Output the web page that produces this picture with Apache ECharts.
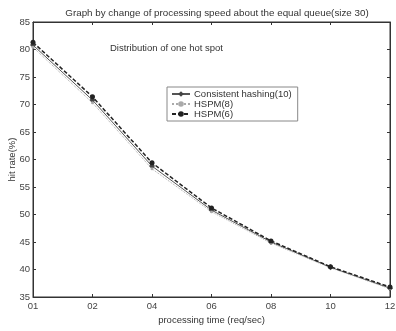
<!DOCTYPE html>
<html><head><meta charset="utf-8">
<script src="https://cdn.jsdelivr.net/npm/echarts@6/dist/echarts.min.js"></script>
<style>html,body{margin:0;padding:0;background:#fff}#c{width:396px;height:331px}</style>
</head><body><div id="c"></div>
<script>
const categories = ['01','02','04','06','08','10','12'];
const consistentHashing = [80.8, 70.8, 58.8, 50.8, 45.0, 40.4, 36.6];
const hspm8 = [80.4, 70.3, 58.3, 50.5, 44.8, 40.3, 36.5];
const hspm6 = [81.3, 71.4, 59.4, 51.2, 45.2, 40.5, 36.8];
const seriesNames = ['Consistent hashing(10)', 'HSPM(8)', 'HSPM(6)'];

const font = 'Liberation Sans, Arial, sans-serif';
const chart = echarts.init(document.getElementById('c'), null, {renderer:'canvas'});
const axisLine = {show:true, lineStyle:{color:'#333', width:1}};
chart.setOption({
  animation:false,
  title:{text:'Graph by change of processing speed about the equal queue(size 30)', left:212, top:3, textAlign:'center',
    textStyle:{fontFamily:font, fontSize:9.8, fontWeight:'normal', color:'#333'}},
  grid:{left:33, right:6, top:22, bottom:34, show:true, borderColor:'#333', borderWidth:1, containLabel:false, outerBoundsMode:'none'},
  legend:{orient:'vertical', left:167, top:87, itemGap:0, itemWidth:18, itemHeight:7,
    padding:[2,6,2,4], borderColor:'#888', borderWidth:1, backgroundColor:'#fff',
    textStyle:{fontFamily:font, fontSize:9.5, color:'#333', padding:[0,0,0,-1]}, data:seriesNames},
  graphic:[{type:'text', left:110, top:43, style:{text:'Distribution of one hot spot', font:'9.5px '+font, fill:'#333'}}],
  xAxis:[{type:'category', data:categories, boundaryGap:false, axisLine,
    axisTick:{show:true, inside:true, length:3, alignWithLabel:true, lineStyle:{color:'#333'}},
    axisLabel:{fontFamily:font, fontSize:9.5, color:'#444', margin:4},
    name:'processing time (req/sec)', nameLocation:'middle', nameGap:18, nameMoveOverlap:false,
    nameTextStyle:{fontFamily:font, fontSize:9.5, color:'#333'}, splitLine:{show:false}},
   {type:'category', data:categories, boundaryGap:false, position:'top', axisLine,
    axisTick:{show:true, inside:true, length:3, lineStyle:{color:'#333'}}, axisLabel:{show:false}}],
  yAxis:[{type:'value', min:35, max:85, interval:5, axisLine,
    axisTick:{show:true, inside:true, length:3, lineStyle:{color:'#333'}},
    axisLabel:{fontFamily:font, fontSize:9.5, color:'#444', margin:3},
    name:'hit rate(%)', nameLocation:'middle', nameGap:16, nameMoveOverlap:false,
    nameTextStyle:{fontFamily:font, fontSize:9.5, color:'#333'}, splitLine:{show:false}},
   {type:'value', min:35, max:85, interval:5, position:'right', axisLine,
    axisTick:{show:true, inside:true, length:3, lineStyle:{color:'#333'}}, axisLabel:{show:false}, splitLine:{show:false}}],
  series:[
    {name:seriesNames[0], type:'line', data:consistentHashing, symbol:'diamond', symbolSize:6,
      itemStyle:{color:'#444'}, lineStyle:{color:'#555', width:1}},
    {name:seriesNames[1], type:'line', data:hspm8, symbol:'circle', symbolSize:3,
      itemStyle:{color:'#aaa'}, lineStyle:{color:'#aaa', width:1, type:'dotted'}},
    {name:seriesNames[2], type:'line', data:hspm6, symbol:'circle', symbolSize:5,
      itemStyle:{color:'#222'}, lineStyle:{color:'#222', width:1.5, type:[4,2]}}
  ]
});
</script></body></html>
